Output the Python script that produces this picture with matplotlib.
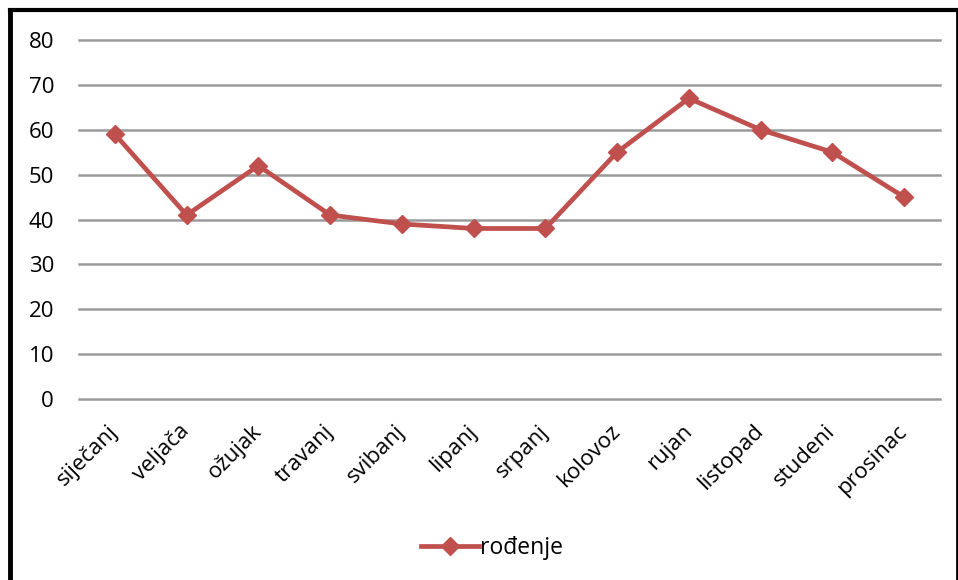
import matplotlib.pyplot as plt
from matplotlib.lines import Line2D

months = ['siječanj', 'veljača', 'ožujak', 'travanj', 'svibanj', 'lipanj',
          'srpanj', 'kolovoz', 'rujan', 'listopad', 'studeni', 'prosinac']
births = [59, 41, 52, 41, 39, 38, 38, 55, 67, 60, 55, 45]
yticks = [0, 10, 20, 30, 40, 50, 60, 70, 80]

plt.rcParams['font.family'] = ['Open Sans', 'DejaVu Sans']

W, H = 958, 580
fig = plt.figure(figsize=(W / 100, H / 100), dpi=100)
ax = fig.add_axes([79 / W, 1 - 399 / H, (940 - 79) / W, (399 - 40) / H])

x = list(range(len(months)))
ax.plot(x, births, color='#C0504D', linewidth=3.4, marker='D', markersize=9.5,
        label='rođenje', solid_joinstyle='miter')

ax.set_xlim(-0.5, len(months) - 0.5)
ax.set_ylim(0, 80)
ax.set_yticks(yticks)
ax.set_xticks(x)
ax.set_xticklabels(months, rotation=45, ha='right', va='center',
                   rotation_mode='anchor', fontsize=16)
ax.tick_params(axis='y', labelsize=16, length=0, pad=18)
ax.tick_params(axis='x', length=0, pad=21)
ax.grid(axis='y', color='#9a9a9a', linewidth=1.8)
for gl in ax.get_ygridlines():
    gl.set_clip_on(False)
ax.set_axisbelow(True)
for s in ax.spines.values():
    s.set_visible(False)

fig.legend(loc='center', bbox_to_anchor=(492 / W, 1 - 548 / H), frameon=False,
           fontsize=16.5, handlelength=2.5, handletextpad=0.05)

# outer frame (top, left, right)
fig.add_artist(Line2D([10 / W, 10 / W], [0, 1 - 10 / H], color='black', linewidth=3.5, transform=fig.transFigure))
fig.add_artist(Line2D([10 / W, 1], [1 - 10 / H, 1 - 10 / H], color='black', linewidth=3, transform=fig.transFigure))
fig.add_artist(Line2D([957 / W, 957 / W], [0, 1 - 10 / H], color='black', linewidth=2, transform=fig.transFigure))

fig.savefig('out.png', dpi=100)
